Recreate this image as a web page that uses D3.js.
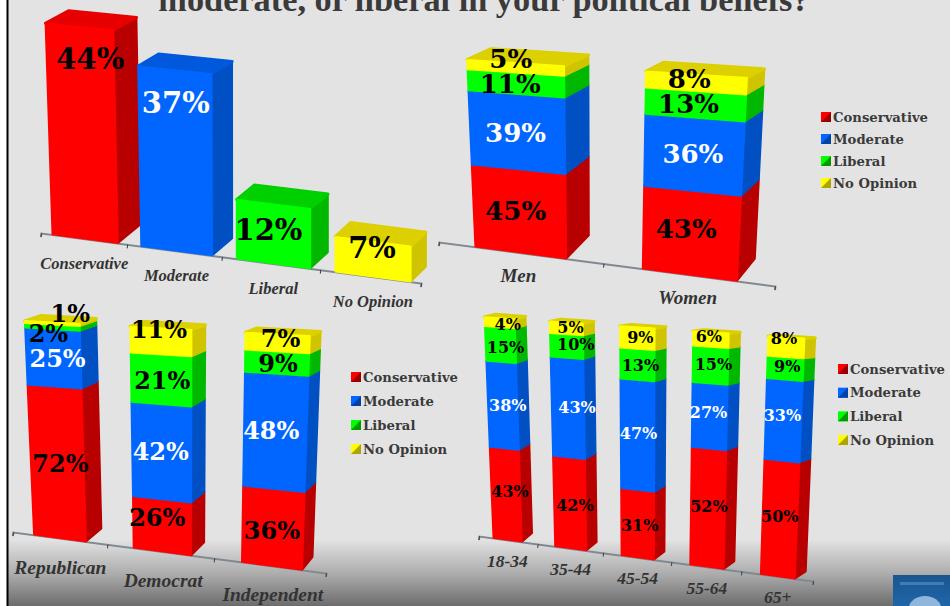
<!DOCTYPE html>
<html><head><meta charset="utf-8">
<script src="https://cdn.jsdelivr.net/npm/d3@7/dist/d3.min.js"></script>
<style>html,body{margin:0;padding:0;background:#fff}svg{display:block}</style>
</head><body><div id="c"></div>
<script>
// ---- data ----
const seriesNames = ["Conservative","Moderate","Liberal","No Opinion"];
const overallCats = ["Conservative","Moderate","Liberal","No Opinion"];
const overallVals = [44,37,12,7];
const genderCats = ["Men","Women"];
const genderConservative = [45,43];
const genderModerate = [39,36];
const genderLiberal = [11,13];
const genderNoOpinion = [5,8];
const partyCats = ["Republican","Democrat","Independent"];
const partyConservative = [72,26,36];
const partyModerate = [25,42,48];
const partyLiberal = [2,21,9];
const partyNoOpinion = [1,11,7];
const ageCats = ["18-34","35-44","45-54","55-64","65+"];
const ageConservative = [43,42,31,52,50];
const ageModerate = [38,43,47,27,33];
const ageLiberal = [15,10,13,15,9];
const ageNoOpinion = [4,5,9,6,8];
const titleText = "moderate, or liberal in your political beliefs?";

// ---- styles ----
const front = ["#ff0000","#0066ff","#00ff00","#ffff00"];
const side  = ["#b80000","#0050c4","#00b800","#d0c400"];
const top_  = ["#e60000","#0058dc","#00d000","#dcd000"];
const W=950,H=606;
const serif='"DejaVu Serif",serif';
const times='"Liberation Serif",serif';

const svg=d3.select("#c").append("svg").attr("width",W).attr("height",H);
const defs=svg.append("defs");
const g=defs.append("linearGradient").attr("id","bg").attr("x1",0).attr("y1",0).attr("x2",0).attr("y2",1);
[[0,"#e3e3e3"],[0.89,"#e3e3e3"],[0.949,"#aaaaaa"],[1,"#6c6c6c"]].forEach(s=>g.append("stop").attr("offset",s[0]).attr("stop-color",s[1]));
const lg=defs.append("linearGradient").attr("id","logo").attr("x1",0).attr("y1",0).attr("x2",0).attr("y2",1);
[[0,"#1a5590"],[1,"#1f66a8"]].forEach(s=>lg.append("stop").attr("offset",s[0]).attr("stop-color",s[1]));

svg.append("rect").attr("x",8).attr("y",0).attr("width",W-8).attr("height",H).attr("fill","url(#bg)");
svg.append("rect").attr("x",6.5).attr("y",0).attr("width",2).attr("height",H).attr("fill","#000");
svg.append("text").attr("x",484).attr("y",11).attr("text-anchor","middle")
  .attr("font-family",times).attr("font-weight",700).attr("font-size",34.3).attr("fill","#3a3a3a").text(titleText);

function panel(cfg){
  const n=cfg.cats.length;
  const layer=svg.append("g");
  const len=Math.hypot(cfg.x1-cfg.x0,cfg.y1-cfg.y0), ang=Math.atan2(cfg.y1-cfg.y0,cfg.x1-cfg.x0)*180/Math.PI;
  const warp=d3.scalePow().exponent(cfg.persp).domain([0,n]).range([0,1]);
  const band=d3.scaleBand().domain(cfg.cats).range([0,n]);
  const ax=d3.scaleLinear().domain([0,1]).range([cfg.x0,cfg.x1]);
  const ay=d3.scaleLinear().domain([0,1]).range([cfg.y0,cfg.y1]);
  const axisScale=warp.copy().range([0,len]);
  const axis=d3.axisBottom(axisScale).tickValues(d3.range(0,n+1)).tickFormat("").tickSize(4);
  const ag=layer.append("g").attr("transform",`translate(${cfg.x0},${cfg.y0}) rotate(${ang})`).call(axis);
  ag.selectAll("path").attr("stroke","#808890").attr("stroke-width",2);
  ag.selectAll("line").attr("stroke","#3c4048");

  const total=d3.scaleLinear().domain(cfg.hDom).range(cfg.hRange);
  const frac=d3.scalePow().exponent(cfg.hExp).domain([0,100]).range([0,1]);
  const slant=d3.scaleLinear().domain(cfg.sDom).range(cfg.sRange).clamp(true);
  const dX=d3.scaleLinear().domain([0,1]).range(cfg.dX);
  const dY=d3.scaleLinear().domain([0,1]).range(cfg.dY);
  const pt=(bx,by,v,k)=>{const h=total(bx)*frac(v)*k; return [bx+slant(bx)*h, by-h];};
  const poly=(pts,fill)=>layer.append("path").attr("d","M"+pts.map(p=>p.map(d=>d.toFixed(1)).join(",")).join("L")+"Z")
     .attr("fill",fill).attr("stroke",fill).attr("stroke-width",1.6).attr("stroke-linejoin","round");

  cfg.cats.forEach((c,i)=>{
    const s=band(c), w=band.bandwidth();
    const fL=warp(s+cfg.padL*w), fR=warp(s+w-cfg.padR*w);
    const xL=ax(fL),yL=ay(fL),xR=ax(fR),yR=ay(fR);
    const bx=xR+dX(fR), by=yR+dY(fR);
    const vals=cfg.series.map(a=>a[i]);
    let cum=0;
    const segs=[];
    vals.forEach((v,si)=>{ segs.push({si:cfg.colorByCat?i:si,v,a:cum,b:cum+v}); cum+=v; });
    segs.forEach(d=>poly([pt(xR,yR,d.a,1),pt(bx,by,d.a,cfg.back),pt(bx,by,d.b,cfg.back),pt(xR,yR,d.b,1)],side[d.si]));
    const last=segs[segs.length-1];
    const tfl=pt(xL,yL,last.b,1), tfr=pt(xR,yR,last.b,1), tbr=pt(bx,by,last.b,cfg.back);
    const tbl=[tfl[0]+(tbr[0]-tfr[0]),tfl[1]+(tbr[1]-tfr[1])];
    poly([tfl,tfr,tbr,tbl],top_[last.si]).attr("stroke-width",3);
    segs.forEach(d=>poly([pt(xL,yL,d.a,1),pt(xR,yR,d.a,1),pt(xR,yR,d.b,1),pt(xL,yL,d.b,1)],front[d.si]));
    segs.forEach((d,j)=>{
      const m=(d.a+d.b)/2, pl=pt(xL,yL,m,1), pr=pt(xR,yR,m,1);
      const nudge=cfg.nudge[i][j];
      const ink=(d.si===1&&d.v>=5)?"#fff":"#000";
      layer.append("text").attr("x",(pl[0]+pr[0])/2+nudge[0]).attr("y",(pl[1]+pr[1])/2+nudge[1])
        .attr("text-anchor","middle").attr("dominant-baseline","central")
        .attr("font-family",serif).attr("font-weight",700).attr("font-size",cfg.valSize).attr("fill",ink).text(d.v+"%");
    });
    const fC=warp(s+(cfg.padL+1-cfg.padR)/2*w);
    layer.append("text").attr("x",ax(fC)+cfg.catDx).attr("y",ay(fC)+cfg.catDy)
      .attr("text-anchor","middle").attr("dominant-baseline","central")
      .attr("font-family",times).attr("font-weight",700).attr("font-style","italic")
      .attr("font-size",cfg.catSize).attr("fill","#333").text(c);
  });
  if(cfg.legend){
    const L=cfg.legend;
    const ly=d3.scalePoint().domain(seriesNames).range([L.y0,L.y1]);
    seriesNames.forEach((nm,i)=>{
      const y=ly(nm), x=L.x, s=10;
      layer.append("rect").attr("x",x).attr("y",y-s/2).attr("width",s).attr("height",s).attr("fill",front[i]);
      layer.append("path").attr("d",`M${x+s},${y-s/2}L${x+s},${y+s/2}L${x},${y+s/2}Z`).attr("fill",d3.color(side[i]).darker(0.5));
      layer.append("text").attr("x",x+s+2).attr("y",y).attr("dominant-baseline","central")
        .attr("font-family",serif).attr("font-weight",700).attr("font-size",L.size).attr("fill","#3a3a3a").text(nm);
    });
  }
}
// Layout: label nudges in pixels, one row per category, bottom segment first.
panel({cats:overallCats,series:[overallVals],colorByCat:true,x0:41,y0:233,x1:421,y1:283,persp:1.07,padL:.15,padR:.1,
  hDom:[53,407],hRange:[480,505],hExp:1,sDom:[53,236],sRange:[-.033,0],dX:[24,15],dY:[-19,-15],back:.97,
  valSize:29,catSize:16.5,catDx:0,catDy:25,
  nudge:[[[8,-74]],[[0,-57]],[[-5,-4]],[[-1,-11]]]});
panel({cats:genderCats,series:[genderConservative,genderModerate,genderLiberal,genderNoOpinion],x0:439,y0:242,x1:775,y1:286,persp:1.03,padL:.23,padR:.22,
  hDom:[475,735],hRange:[187,203],hExp:1.03,sDom:[475,735],sRange:[-.044,.05],dX:[26,17],dY:[-24,-22],back:.93,
  valSize:26,catSize:19,catDx:-2,catDy:23,legend:{x:821,y0:117,y1:183,size:13.2},
  nudge:[[[-4,-1],[-2,1],[-6,1],[-5,-9]],[[-5,-5],[-1,-1],[-7,0],[-7,-4]]]});
panel({cats:partyCats,series:[partyConservative,partyModerate,partyLiberal,partyNoOpinion],x0:13,y0:532,x1:326,y1:573,persp:1.09,padL:.25,padR:.21,
  hDom:[36,302],hRange:[214,234],hExp:1.08,sDom:[36,312],sRange:[-.043,.036],dX:[17,10],dY:[-13,-13],back:.96,
  valSize:24,catSize:19.5,catDx:1,catDy:29,legend:{x:351,y0:377,y1:449,size:13.2},
  nudge:[[[3,-3],[4,0],[-4,6],[18,-10]],[[-5,-9],[-1,-1],[1,1],[-2,-12]],[[-1,1],[-4,-2],[1,1],[3,-4]]]});
panel({cats:ageCats,series:[ageConservative,ageModerate,ageLiberal,ageNoOpinion],x0:479,y0:536,x1:813,y1:581,persp:1.08,padL:.27,padR:.25,
  hDom:[495,792],hRange:[221,240],hExp:1.05,sDom:[495,792],sRange:[-.04,.04],dX:[10,11],dY:[-9,-7],back:.97,
  valSize:16,catSize:17.5,catDx:0,catDy:21,legend:{x:838,y0:369,y1:440,size:13.2},
  nudge:[[[4,-4],[5,0],[5,3],[8,2]],[[5,1],[9,-1],[9,-2],[4,-1]],[[2,1],[1,-2],[3,1],[3,-1]],[[1,-3],[-1,-4],[3,-1],[-2,-3]],[[0,-4],[-1,-5],[2,-2],[-2,-9]]]});
svg.append("rect").attr("x",893).attr("y",575).attr("width",57).attr("height",31).attr("fill","url(#logo)");
svg.append("ellipse").attr("cx",925).attr("cy",608).attr("rx",16).attr("ry",12).attr("fill","#8fb6dc");
svg.append("rect").attr("x",900).attr("y",582).attr("width",44).attr("height",3).attr("fill","#3f7cb8");
</script></body></html>
